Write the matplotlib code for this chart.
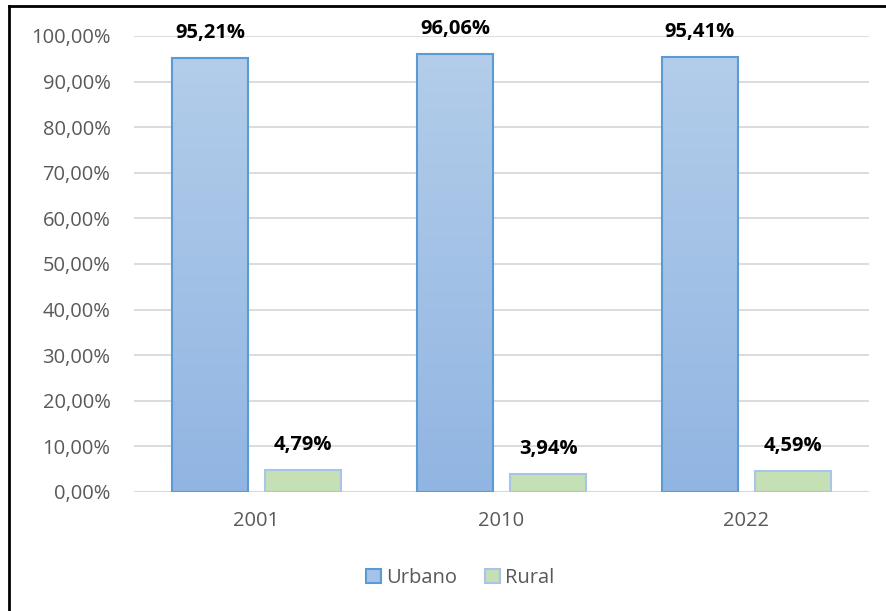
import numpy as np
import matplotlib
matplotlib.use("Agg")
import matplotlib.pyplot as plt
from matplotlib.patches import Patch
from matplotlib.lines import Line2D

years = ["2001", "2010", "2022"]
urbano = [95.21, 96.06, 95.41]
rural = [4.79, 3.94, 4.59]
urbano_labels = ["95,21%", "96,06%", "95,41%"]
rural_labels = ["4,79%", "3,94%", "4,59%"]

plt.rcParams['font.family'] = ['Open Sans', 'DejaVu Sans']

fig = plt.figure(figsize=(8.86, 6.11), dpi=100)
ax = fig.add_axes([134 / 886, 1 - 492 / 611, 735 / 886, 456 / 611])

x = np.arange(len(years))
w = 0.31
off = 0.19

# gradient image for the urban bars
grad = np.linspace(0, 1, 256).reshape(-1, 1)
cmap = matplotlib.colors.LinearSegmentedColormap.from_list("ub", ["#91b5e2", "#b3cdea"])

ub = ax.bar(x - off, urbano, w, color="none", edgecolor="#5b9bd5", linewidth=1.5, zorder=3)
for b in ub:
    bx, by = b.get_x(), b.get_y()
    bw, bh = b.get_width(), b.get_height()
    im = ax.imshow(grad, cmap=cmap, aspect="auto", origin="lower",
                   extent=[bx, bx + bw, by, by + bh], zorder=2)
    im.set_clip_path(b)
rb = ax.bar(x + off, rural, w, color="#c5e0b4", edgecolor="#a9c4eb", linewidth=1.5, zorder=3)

for i in range(len(years)):
    ax.annotate(urbano_labels[i], (x[i] - off, urbano[i]), xytext=(0, 18), textcoords="offset points",
                ha="center", va="center", fontsize=14.5, fontweight="bold", color="black")
    ax.annotate(rural_labels[i], (x[i] + off, rural[i]), xytext=(0, 18), textcoords="offset points",
                ha="center", va="center", fontsize=14.5, fontweight="bold", color="black")

ax.set_xlim(-0.5, 2.5)
ax.set_ylim(0, 100)
ax.set_yticks(np.arange(0, 101, 10))
ax.set_yticklabels(["{:.2f}%".format(v).replace(".", ",") for v in np.arange(0, 101, 10)])
ax.set_xticks(x)
ax.set_xticklabels(years)
ax.tick_params(axis="both", length=0, colors="#595959", labelsize=14.5)
ax.tick_params(axis="y", pad=17)
ax.tick_params(axis="x", pad=14)
ax.grid(axis="y", color="#d9d9d9", linewidth=1.3, zorder=0)
ax.set_axisbelow(True)
for s in ax.spines.values():
    s.set_visible(False)
ax.axhline(0, color="#d9d9d9", linewidth=1.5, zorder=1)

handles = [Patch(facecolor="#a5c3e8", edgecolor="#5b9bd5", linewidth=1.5, label="Urbano"),
           Patch(facecolor="#c5e0b4", edgecolor="#a9c4eb", linewidth=1.5, label="Rural")]
leg = fig.legend(handles=handles, loc="center", bbox_to_anchor=(460 / 886, 1 - 578 / 611), ncol=2,
                 frameon=False, fontsize=14.5, handlelength=0.75, handleheight=0.75,
                 handletextpad=0.25, columnspacing=1.4)
for t in leg.get_texts():
    t.set_color("#595959")

# outer frame (left and top edges visible)
fig.add_artist(Line2D([9 / 886, 9 / 886], [0, 1 - 6 / 611], transform=fig.transFigure, color="black", linewidth=2))
fig.add_artist(Line2D([9 / 886, 1], [1 - 6 / 611, 1 - 6 / 611], transform=fig.transFigure, color="black", linewidth=2))

fig.savefig("out.png", dpi=100)
